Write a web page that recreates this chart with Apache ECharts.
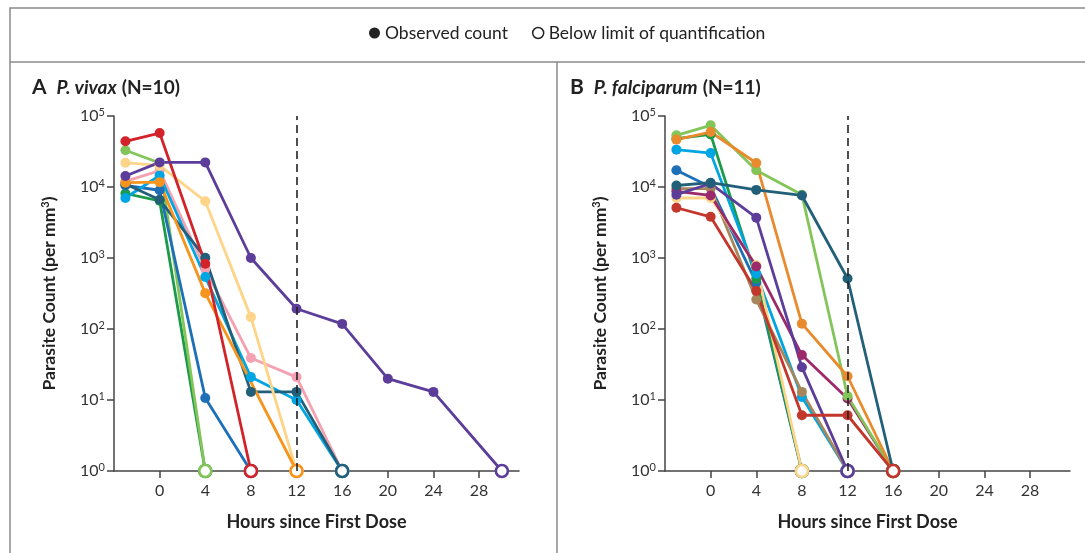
<!DOCTYPE html>
<html>
<head>
    <meta charset="utf-8">
    <style type="text/css">
        html,body { margin: 0px; padding: 0px; height: 100%; background: #fff; }
    </style>
    <script src="https://cdn.jsdelivr.net/npm/echarts@6/dist/echarts.min.js"></script>
</head>
<body>
    <div id="chart" style="width: 1085px; height: 553px;"></div>
    <script type="text/javascript">
        // BLQ = below limit of quantification, drawn on the 10^0 line as a hollow dot
        var BLQ = 'BLQ';
        var xTicks = [0, 4, 8, 12, 16, 20, 24, 28];

        // A  P. vivax  (parasites per mm3)
        var hoursA = [-3, 0, 4, 8, 12, 16, 20, 24, 30];
        var vivaxDarkGreen  = [8100, 6400, BLQ];
        var vivaxLightGreen = [32900, 21800, BLQ];
        var vivaxBlue       = [10500, 9000, 10.7, BLQ];
        var vivaxPink       = [12000, 17000, 700, 39, 21, BLQ];
        var vivaxCyan       = [7000, 14500, 540, 21, 10, BLQ];
        var vivaxTeal       = [11000, 6600, 1010, 13, 13, BLQ];
        var vivaxYellow     = [22000, 20000, 6300, 147, BLQ];
        var vivaxOrange     = [11500, 11700, 320, null, BLQ];
        var vivaxRed        = [44000, 57500, 830, BLQ];
        var vivaxPurple     = [14300, 22200, 22200, 1000, 193, 118, 20, 13, BLQ];

        // B  P. falciparum
        var hoursB = [-3, 0, 4, 8, 12, 16];
        var falcBlue       = [17200, 10000, 450, BLQ];
        var falcDarkGreen  = [48000, 55000, 510, BLQ];
        var falcCyan       = [33600, 30000, 600, 11, BLQ];
        var falcTan        = [9500, 9500, 260, 13, BLQ];
        var falcYellow     = [7000, 7000, 790, BLQ];
        var falcMagenta    = [8700, 7600, 760, 43, 10.5, BLQ];
        var falcPurple     = [7800, 11200, 3700, 29, BLQ];
        var falcLightGreen = [53500, 74000, 17200, 7800, 11.4, BLQ];
        var falcOrange     = [46500, 59500, 21800, 119, 21.6, BLQ];
        var falcTeal       = [10500, 11500, 9100, 7600, 514, BLQ];
        var falcRed        = [5100, 3800, 343, 6.1, 6.1, BLQ];

        var FONT = 'Lato';

        function patient(hours, vals, color, gi) {
            var data = [];
            vals.forEach(function (v, i) {
                if (v === null) return;
                if (v === BLQ) {
                    data.push({
                        value: [hours[i], 1], symbol: 'circle', symbolSize: 12,
                        itemStyle: { color: '#fff', borderColor: color, borderWidth: 2.6 }
                    });
                } else {
                    data.push([hours[i], v]);
                }
            });
            return {
                type: 'line', xAxisIndex: gi, yAxisIndex: gi, data: data,
                symbol: 'circle', symbolSize: 10, silent: true,
                lineStyle: { color: color, width: 2.8 },
                itemStyle: { color: color }
            };
        }

        function xAxis(gi) {
            return {
                type: 'value', gridIndex: gi, min: -4, max: 31.5, interval: 4,
                name: 'Hours since First Dose', nameLocation: 'middle', nameGap: 42,
                nameTextStyle: { fontFamily: FONT, fontSize: 18, fontWeight: 'bold', color: '#222' },
                axisLine: { onZero: false, lineStyle: { color: '#444', width: 1.5 } },
                axisTick: { customValues: xTicks, length: 7, lineStyle: { color: '#444', width: 1.5 } },
                axisLabel: { customValues: xTicks, margin: 12, fontFamily: FONT, fontSize: 16, color: '#333' },
                splitLine: { show: false }
            };
        }

        function yAxis(gi) {
            return {
                type: 'log', logBase: 10, gridIndex: gi, min: 1, max: 100000,
                name: 'Parasite Count (per mm{sup|3})', nameLocation: 'middle', nameGap: 56,
                nameTextStyle: {
                    fontFamily: FONT, fontSize: 17.5, fontWeight: 'bold', color: '#222',
                    rich: { sup: { fontFamily: FONT, fontSize: 11, fontWeight: 'bold', color: '#222', verticalAlign: 'top', lineHeight: 10 } }
                },
                axisLine: { show: true, onZero: false, lineStyle: { color: '#444', width: 1.5 } },
                axisTick: { show: true, length: 7, lineStyle: { color: '#444', width: 1.5 } },
                axisLabel: {
                    margin: 9,
                    formatter: function (v) { return '{b|10}{s|' + Math.round(Math.log10(v)) + '}'; },
                    rich: {
                        b: { fontFamily: FONT, fontSize: 16, color: '#333', lineHeight: 19 },
                        s: { fontFamily: FONT, fontSize: 11, color: '#333', lineHeight: 10, verticalAlign: 'top' }
                    }
                },
                splitLine: { show: false }
            };
        }

        function cutoff() {
            return {
                silent: true, symbol: 'none', label: { show: false },
                lineStyle: { type: [8, 5], color: '#222', width: 1.6 },
                data: [{ xAxis: 12 }]
            };
        }

        var seriesA = [
            patient(hoursA, vivaxDarkGreen, '#1B9A4A', 0),
            patient(hoursA, vivaxLightGreen, '#84C55A', 0),
            patient(hoursA, vivaxBlue, '#1D6FB8', 0),
            patient(hoursA, vivaxPink, '#F4A1B2', 0),
            patient(hoursA, vivaxCyan, '#00A5E3', 0),
            patient(hoursA, vivaxTeal, '#22607A', 0),
            patient(hoursA, vivaxYellow, '#FDD488', 0),
            patient(hoursA, vivaxOrange, '#F7941E', 0),
            patient(hoursA, vivaxRed, '#D2232A', 0),
            patient(hoursA, vivaxPurple, '#5C3D99', 0)
        ];
        seriesA[0].markLine = cutoff();

        var seriesB = [
            patient(hoursB, falcBlue, '#1D6FB8', 1),
            patient(hoursB, falcDarkGreen, '#1B9A4A', 1),
            patient(hoursB, falcCyan, '#00A5E3', 1),
            patient(hoursB, falcTan, '#A8865C', 1),
            patient(hoursB, falcYellow, '#FDD488', 1),
            patient(hoursB, falcMagenta, '#9C2A6B', 1),
            patient(hoursB, falcPurple, '#5C3D99', 1),
            patient(hoursB, falcLightGreen, '#84C55A', 1),
            patient(hoursB, falcOrange, '#E98A2C', 1),
            patient(hoursB, falcTeal, '#22607A', 1),
            patient(hoursB, falcRed, '#C3362B', 1)
        ];
        seriesB[0].markLine = cutoff();

        // empty series only used for the key at the top
        var keySeries = [
            { name: 'Observed count', type: 'line', data: [], itemStyle: { color: '#222' } },
            { name: 'Below limit of quantification', type: 'line', data: [], itemStyle: { color: '#222' } }
        ];

        var titleRich = {
            a: { fontFamily: FONT, fontSize: 21, fontWeight: 'bold', color: '#222' },
            i: { fontFamily: FONT, fontSize: 19, fontWeight: 'bold', fontStyle: 'italic', color: '#222' },
            n: { fontFamily: FONT, fontSize: 19, fontWeight: 'bold', color: '#222' }
        };

        var myChart = echarts.init(document.getElementById('chart'));
        myChart.setOption({
            animation: false,
            title: [
                { left: 27, top: 72, text: '{a|A}  {i|P. vivax} {n|(N=10)}', textStyle: { rich: titleRich } },
                { left: 565, top: 72, text: '{a|B}  {i|P. falciparum} {n|(N=11)}', textStyle: { rich: titleRich } }
            ],
            legend: {
                top: 19, left: 364, selectedMode: false, itemGap: 24,
                itemWidth: 11, itemHeight: 11,
                textStyle: { fontFamily: FONT, fontSize: 17.5, color: '#222' },
                data: [
                    { name: 'Observed count', icon: 'circle', itemStyle: { color: '#222' } },
                    { name: 'Below limit of quantification', icon: 'circle',
                      itemStyle: { color: '#fff', borderColor: '#222', borderWidth: 1.5 } }
                ]
            },
            grid: [
                { left: 114, right: 566, top: 116, bottom: 82 },
                { left: 665, right: 15, top: 116, bottom: 82 }
            ],
            xAxis: [xAxis(0), xAxis(1)],
            yAxis: [yAxis(0), yAxis(1)],
            graphic: [
                { type: 'rect', silent: true, shape: { x: 10, y: 8, width: 1090, height: 560 },
                  style: { fill: 'none', stroke: '#8a8a8a', lineWidth: 1.5 } },
                { type: 'line', silent: true, shape: { x1: 10, y1: 62, x2: 1085, y2: 62 },
                  style: { stroke: '#8a8a8a', lineWidth: 1.5 } },
                { type: 'line', silent: true, shape: { x1: 557, y1: 62, x2: 557, y2: 553 },
                  style: { stroke: '#8a8a8a', lineWidth: 1.5 } }
            ],
            series: keySeries.concat(seriesA, seriesB)
        });
        window.onresize = myChart.resize;
    </script>
</body>
</html>
